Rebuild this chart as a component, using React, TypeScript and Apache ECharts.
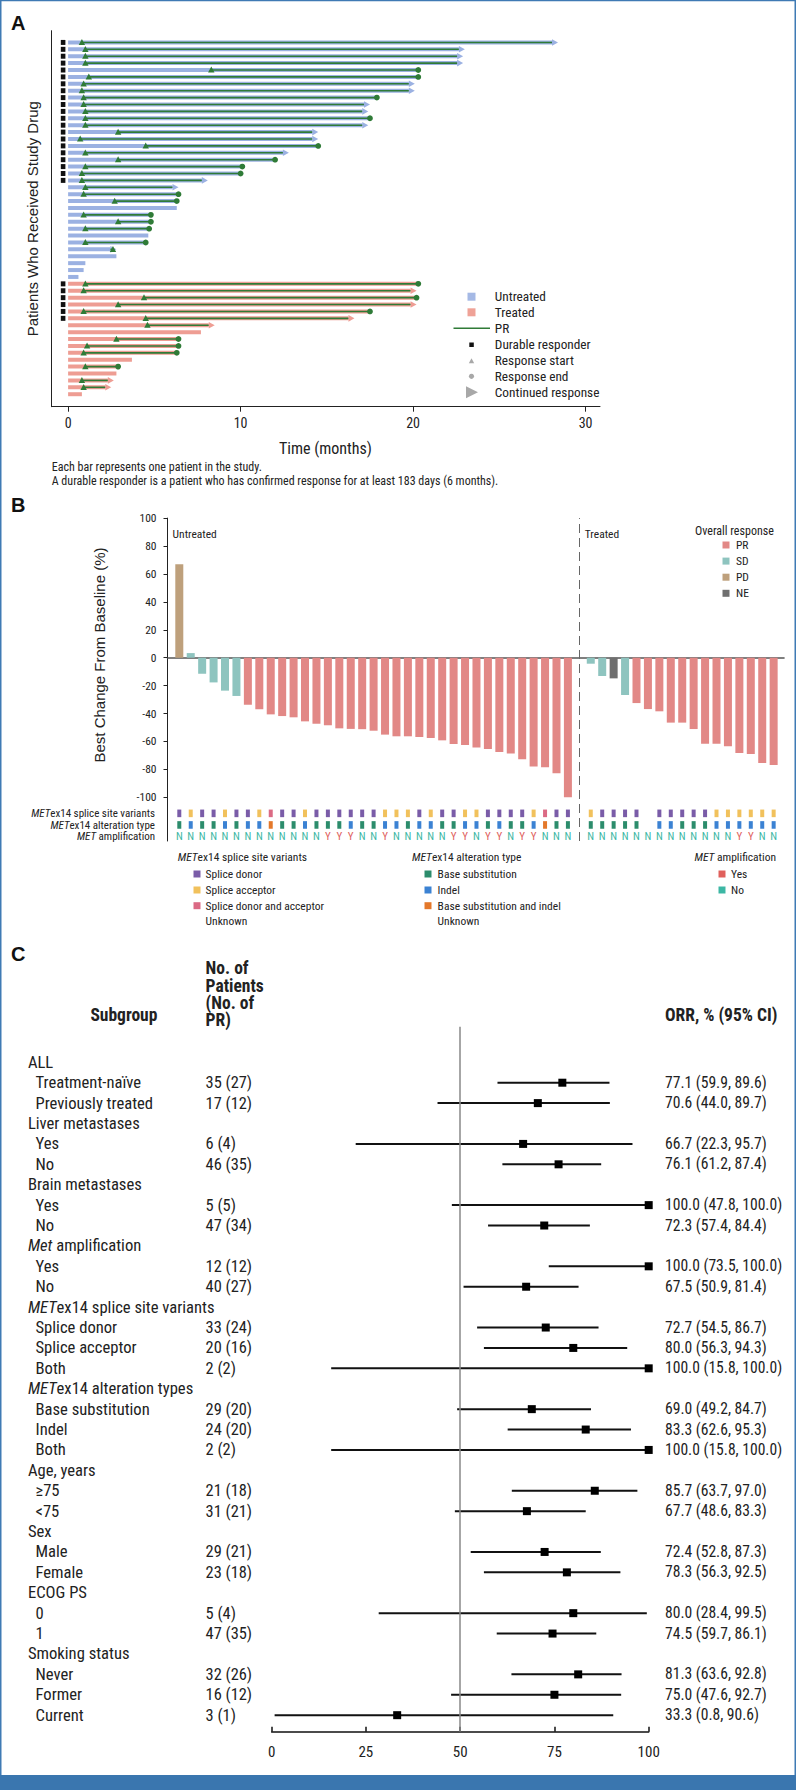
import React, { useEffect, useRef } from "react";
import * as echarts from "echarts";

const NARROW = "'Liberation Sans Narrow', 'Arial Narrow', 'Roboto Condensed', 'Liberation Sans', Arial, sans-serif";
const SANS = "'Liberation Sans', Arial, Helvetica, sans-serif";

// ---------------- Panel A : swimmer plot (months) ----------------
const untreatedEnd = [28.4, 23.0, 22.9, 22.9, 20.3, 20.3, 20.1, 20.1, 17.9, 17.5, 17.4, 17.5, 17.4, 14.5, 14.5, 14.5, 12.8, 12.0, 10.1, 10.0, 8.1, 6.4, 6.4, 6.3, 6.3, 4.8, 4.8, 4.7, 4.65, 4.5, 2.8, 2.8, 1.0, 0.9, 0.6];
const untreatedStart = [0.8, 1.0, 1.0, 1.0, 8.3, 1.2, 0.9, 0.8, 0.9, 0.9, 1.0, 1.0, 1.0, 2.9, 0.7, 4.5, 1.0, 2.9, 1.0, 0.8, 0.8, 1.0, 0.9, 2.7, null, 0.9, 2.9, 1.0, null, 1.0, 2.6, null, null, null, null];
const untreatedOutcome = ["arrow", "arrow", "arrow", "arrow", "end", "end", "arrow", "arrow", "end", "arrow", "arrow", "end", "arrow", "arrow", "arrow", "end", "arrow", "end", "end", "end", "arrow", "arrow", "end", "end", "none", "end", "end", "end", "none", "end", "arrow", "none", "none", "none", "none"];
const untreatedDurable = [1, 1, 1, 1, 1, 1, 1, 1, 1, 1, 1, 1, 1, 1, 1, 1, 1, 1, 1, 1, 1, 0, 0, 0, 0, 0, 0, 0, 0, 0, 0, 0, 0, 0, 0];
const treatedEnd = [20.3, 20.2, 20.2, 20.2, 17.5, 16.6, 8.5, 7.7, 6.4, 6.4, 6.3, 3.7, 2.9, 2.8, 2.65, 2.5, 0.8];
const treatedStart = [1.0, 0.9, 4.4, 2.9, 0.9, 4.5, 4.6, null, 2.8, 1.1, 0.9, null, 1.0, null, 0.8, 0.9, null];
const treatedOutcome = ["end", "arrow", "end", "arrow", "end", "arrow", "arrow", "none", "end", "end", "end", "none", "end", "none", "arrow", "arrow", "none"];
const treatedDurable = [1, 1, 1, 1, 1, 1, 0, 0, 0, 0, 0, 0, 0, 0, 0, 0, 0];
const timeTicks = [0, 10, 20, 30];

// ---------------- Panel B : waterfall (% change) ----------------
const untreatedChange = [67, 3.3, -11.5, -17.7, -23.6, -27.4, -33.7, -37.0, -40.6, -41.8, -42.7, -45.6, -47.3, -48.4, -50.6, -51.0, -51.2, -52.3, -55.1, -56.3, -56.3, -56.8, -57.5, -59.2, -61.8, -62.5, -64.4, -65.4, -67.5, -68.7, -72.8, -78.0, -78.5, -82.8, -100];
const untreatedResponse = ["PD", "SD", "SD", "SD", "SD", "SD", "PR", "PR", "PR", "PR", "PR", "PR", "PR", "PR", "PR", "PR", "PR", "PR", "PR", "PR", "PR", "PR", "PR", "PR", "PR", "PR", "PR", "PR", "PR", "PR", "PR", "PR", "PR", "PR", "PR"];
const treatedChange = [-4.3, -13.1, -14.8, -26.7, -32.5, -36.8, -38.4, -46.5, -46.5, -51.1, -61.6, -61.6, -63.5, -68.3, -69.0, -75.4, -76.8];
const treatedResponse = ["SD", "SD", "NE", "SD", "PR", "PR", "PR", "PR", "PR", "PR", "PR", "PR", "PR", "PR", "PR", "PR", "PR"];
const untreatedSplice = ["D", "A", "D", "D", "A", "D", "D", "A", "B", "D", "D", "A", "D", "D", "D", "D", "D", "D", "A", "A", "A", "D", "A", "D", "D", "A", "A", "D", "D", "D", "D", "A", "B", "D", "D"];
const untreatedAlteration = ["S", "I", "S", "S", "I", "S", "I", "I", "B", "S", "S", "I", "S", "S", "S", "I", "S", "S", "I", "I", "S", "I", "I", "S", "S", "I", "I", "S", "I", "S", "S", "I", "B", "S", "S"];
const untreatedAmp = ["N", "N", "N", "N", "N", "N", "N", "N", "N", "N", "N", "N", "N", "Y", "Y", "Y", "N", "N", "Y", "N", "N", "N", "N", "N", "Y", "Y", "N", "Y", "Y", "N", "Y", "Y", "N", "N", "N"];
const treatedSplice = ["A", "D", "D", "D", "D", "", "D", "D", "D", "D", "D", "A", "A", "A", "A", "A", "A"];
const treatedAlteration = ["S", "S", "S", "S", "S", "", "I", "I", "S", "S", "S", "I", "I", "I", "I", "I", "I"];
const treatedAmp = ["N", "N", "N", "N", "N", "N", "N", "N", "N", "N", "N", "N", "N", "Y", "Y", "N", "N"];
const changeTicks = [-100, -80, -60, -40, -20, 0, 20, 40, 60, 80, 100];

// ---------------- Panel C : forest plot (ORR %) ----------------
const subgroups = ["ALL", "Treatment-naïve", "Previously treated", "Liver metastases", "Yes", "No", "Brain metastases", "Yes", "No", "{it|Met} amplification", "Yes", "No", "{it|MET}ex14 splice site variants", "Splice donor", "Splice acceptor", "Both", "{it|MET}ex14 alteration types", "Base substitution", "Indel", "Both", "Age, years", "≥75", "<75", "Sex", "Male", "Female", "ECOG PS", "0", "1", "Smoking status", "Never", "Former", "Current"];
const patientsPR = ["", "35 (27)", "17 (12)", "", "6 (4)", "46 (35)", "", "5 (5)", "47 (34)", "", "12 (12)", "40 (27)", "", "33 (24)", "20 (16)", "2 (2)", "", "29 (20)", "24 (20)", "2 (2)", "", "21 (18)", "31 (21)", "", "29 (21)", "23 (18)", "", "5 (4)", "47 (35)", "", "32 (26)", "16 (12)", "3 (1)"];
const orr = [null, 77.1, 70.6, null, 66.7, 76.1, null, 100.0, 72.3, null, 100.0, 67.5, null, 72.7, 80.0, 100.0, null, 69.0, 83.3, 100.0, null, 85.7, 67.7, null, 72.4, 78.3, null, 80.0, 74.5, null, 81.3, 75.0, 33.3];
const ciLow = [null, 59.9, 44.0, null, 22.3, 61.2, null, 47.8, 57.4, null, 73.5, 50.9, null, 54.5, 56.3, 15.8, null, 49.2, 62.6, 15.8, null, 63.7, 48.6, null, 52.8, 56.3, null, 28.4, 59.7, null, 63.6, 47.6, 0.8];
const ciHigh = [null, 89.6, 89.7, null, 95.7, 87.4, null, 100.0, 84.4, null, 100.0, 81.4, null, 86.7, 94.3, 100.0, null, 84.7, 95.3, 100.0, null, 97.0, 83.3, null, 87.3, 92.5, null, 99.5, 86.1, null, 92.8, 92.7, 90.6];
const orrTicks = [0, 25, 50, 75, 100];

// ---------------- colours ----------------
const C_UNTREATED = "#9bb1e2";
const C_TREATED = "#ee9d93";
const C_GREEN = "#2f7b37";
const RESP_COLORS: Record<string, string> = { PR: "#e28886", SD: "#8ec4bf", PD: "#bea07c", NE: "#6f6f6f" };
const SPLICE_COLORS: Record<string, string> = { D: "#7a5ca8", A: "#f1c15c", B: "#db6a84" };
const ALT_COLORS: Record<string, string> = { S: "#2c8c6c", I: "#3b82d3", B: "#e4782a" };
const AMP_COLORS: Record<string, string> = { Y: "#e0605c", N: "#3cb7a4" };
const FRAME = "#3f7ab4";

function buildOption() {
  const outcomeCode = (o: string) => (o === "end" ? 1 : o === "arrow" ? 2 : 0);
  const swimmer: number[][] = [];
  untreatedEnd.forEach((e, i) => swimmer.push([i, e, untreatedStart[i] == null ? -1 : (untreatedStart[i] as number), outcomeCode(untreatedOutcome[i]), untreatedDurable[i], 0]));
  treatedEnd.forEach((e, j) => swimmer.push([untreatedEnd.length + j, e, treatedStart[j] == null ? -1 : (treatedStart[j] as number), outcomeCode(treatedOutcome[j]), treatedDurable[j], 1]));

  const nU = untreatedChange.length;
  const bars: any[] = [];
  untreatedChange.forEach((v, i) => bars.push({ value: [i, v], itemStyle: { color: RESP_COLORS[untreatedResponse[i]] } }));
  treatedChange.forEach((v, j) => bars.push({ value: [nU + 1 + j, v], itemStyle: { color: RESP_COLORS[treatedResponse[j]] } }));
  const annot: any[] = [];
  untreatedSplice.forEach((s, i) => annot.push([i, s, untreatedAlteration[i], untreatedAmp[i]]));
  treatedSplice.forEach((s, j) => annot.push([nU + 1 + j, s, treatedAlteration[j], treatedAmp[j]]));

  const forest: number[][] = [];
  orr.forEach((v, k) => { if (v != null) forest.push([v, k, ciLow[k] as number, ciHigh[k] as number]); });
  const forestRows = subgroups.map((_, k) => [50, k]);

  const txt = (x: number, y: number, text: string, o: any = {}) => ({
    type: "text", x, y, silent: true,
    style: Object.assign({ text, fontSize: 12, fontFamily: NARROW, fill: "#222", align: "left", verticalAlign: "middle" }, o),
  });
  const rect = (x: number, y: number, w: number, h: number, fill: string) => ({ type: "rect", silent: true, shape: { x, y, width: w, height: h }, style: { fill } });
  const italicRich = (fs: number, weight = "normal") => ({ it: { fontStyle: "italic", fontSize: fs, fontFamily: NARROW, fill: "#222", fontWeight: weight } });

  const LA = 13.3;
  const legendA = [
    rect(467.5, 292.7, 8, 8, "#a5b9e5"),
    txt(494.8, 296.7, "Untreated", { fontSize: LA }),
    rect(467.5, 308.3, 8, 8, "#efa297"),
    txt(494.8, 312.3, "Treated", { fontSize: LA }),
    { type: "line", silent: true, shape: { x1: 453.5, y1: 328.3, x2: 490, y2: 328.3 }, style: { stroke: C_GREEN, lineWidth: 1.5 } },
    txt(494.8, 328.3, "PR", { fontSize: LA }),
    rect(469.3, 342.5, 4.5, 4.5, "#111"),
    txt(494.8, 344.7, "Durable responder", { fontSize: LA }),
    { type: "polygon", silent: true, shape: { points: [[468.8, 363.2], [471.5, 358.2], [474.2, 363.2]] }, style: { fill: "#a8a8a8" } },
    txt(494.8, 360.7, "Response start", { fontSize: LA }),
    { type: "circle", silent: true, shape: { cx: 471.5, cy: 376.3, r: 2.6 }, style: { fill: "#a8a8a8" } },
    txt(494.8, 376.3, "Response end", { fontSize: LA }),
    { type: "polygon", silent: true, shape: { points: [[466, 386.3], [478, 392.3], [466, 398.3]] }, style: { fill: "#a8a8a8" } },
    txt(494.8, 392.3, "Continued response", { fontSize: LA }),
  ];

  const legendB = [
    txt(695, 530.7, "Overall response", { fontSize: 12 }),
    ...["PR", "SD", "PD", "NE"].flatMap((k, i) => {
      const y = 545 + i * 16.1;
      return [rect(722.5, y - 3.5, 7, 7, RESP_COLORS[k]), txt(736, y, k, { fontSize: 11.5 })];
    }),
  ];

  const LB = 11.5;
  const legendB2: any[] = [
    txt(177.7, 856.7, "{it|MET}ex14 splice site variants", { fontSize: LB, rich: italicRich(LB) }),
    txt(412, 856.7, "{it|MET}ex14 alteration type", { fontSize: LB, rich: italicRich(LB) }),
    txt(776, 856.7, "{it|MET} amplification", { fontSize: LB, align: "right", rich: italicRich(LB) }),
  ];
  const col1 = [["Splice donor", SPLICE_COLORS.D], ["Splice acceptor", SPLICE_COLORS.A], ["Splice donor and acceptor", SPLICE_COLORS.B], ["Unknown", ""]];
  const col2 = [["Base substitution", ALT_COLORS.S], ["Indel", ALT_COLORS.I], ["Base substitution and indel", ALT_COLORS.B], ["Unknown", ""]];
  const col3 = [["Yes", AMP_COLORS.Y], ["No", AMP_COLORS.N]];
  const itemYs = [874, 890, 905.7, 921.3];
  col1.forEach(([t, c], i) => { if (c) legendB2.push(rect(193.5, itemYs[i] - 3.5, 7, 7, c)); legendB2.push(txt(205.6, itemYs[i], t, { fontSize: LB })); });
  col2.forEach(([t, c], i) => { if (c) legendB2.push(rect(424.5, itemYs[i] - 3.5, 7, 7, c)); legendB2.push(txt(437.6, itemYs[i], t, { fontSize: LB })); });
  col3.forEach(([t, c], i) => { if (c) legendB2.push(rect(718.5, itemYs[i] - 3.5, 7, 7, c)); legendB2.push(txt(731, itemYs[i], t, { fontSize: LB })); });

  const annotLabels = [
    txt(155, 813.3, "{it|MET}ex14 splice site variants", { fontSize: 11, align: "right", rich: italicRich(11) }),
    txt(155, 825, "{it|MET}ex14 alteration type", { fontSize: 11, align: "right", rich: italicRich(11) }),
    txt(155, 836.7, "{it|MET} amplification", { fontSize: 11, align: "right", rich: italicRich(11) }),
  ];

  const HB = 17.5;
  const graphic = [
    { type: "rect", silent: true, shape: { x: 0.75, y: 0.5, width: 794.5, height: 1776 }, style: { fill: "none", stroke: FRAME, lineWidth: 1.5 } },
    rect(0, 1775, 796, 15, "#3a76af"),
    txt(11, 22.7, "A", { fontSize: 20, fontWeight: "bold", fontFamily: SANS, fill: "#111" }),
    txt(11, 505, "B", { fontSize: 20, fontWeight: "bold", fontFamily: SANS, fill: "#111" }),
    txt(11, 954.3, "C", { fontSize: 20, fontWeight: "bold", fontFamily: SANS, fill: "#111" }),
    { type: "text", silent: true, x: 32.5, y: 218.7, rotation: Math.PI / 2, style: { text: "Patients Who Received Study Drug", fontSize: 15, fontFamily: SANS, fill: "#222", align: "center", verticalAlign: "middle" } },
    txt(325.5, 448, "Time (months)", { fontSize: 16, align: "center" }),
    txt(51.7, 467, "Each bar represents one patient in the study.", { fontSize: 12 }),
    txt(51.7, 481, "A durable responder is a patient who has confirmed response for at least 183 days (6 months).", { fontSize: 12 }),
    ...legendA,
    { type: "text", silent: true, x: 99, y: 655, rotation: Math.PI / 2, style: { text: "Best Change From Baseline (%)", fontSize: 15, fontFamily: SANS, fill: "#222", align: "center", verticalAlign: "middle" } },
    txt(172.6, 534.3, "Untreated", { fontSize: 11.5 }),
    txt(584.8, 534.3, "Treated", { fontSize: 11.5 }),
    ...legendB,
    ...annotLabels,
    ...legendB2,
    txt(205.6, 968.3, "No. of", { fontSize: HB, fontWeight: "bold" }),
    txt(205.6, 985.7, "Patients", { fontSize: HB, fontWeight: "bold" }),
    txt(205.6, 1003, "(No. of", { fontSize: HB, fontWeight: "bold" }),
    txt(205.6, 1020.3, "PR)", { fontSize: HB, fontWeight: "bold" }),
    txt(157.4, 1015, "Subgroup", { fontSize: HB, fontWeight: "bold", align: "right" }),
    txt(665, 1015, "ORR, % (95% CI)", { fontSize: HB, fontWeight: "bold" }),
  ];

  return {
    animation: false,
    backgroundColor: "#ffffff",
    graphic,
    grid: [
      { left: 51.7, top: 30.7, width: 548.3, height: 376 },
      { left: 167.5, top: 518.1, width: 616.5, height: 322.9 },
      { left: 271.6, top: 1026.7, width: 377.1, height: 705 },
    ],
    xAxis: [
      {
        gridIndex: 0, type: "value", min: -0.951, max: 30.835, position: "bottom",
        axisLine: { show: true, onZero: false, lineStyle: { color: "#222", width: 1 } },
        axisTick: { show: true, customValues: timeTicks, length: 5, lineStyle: { color: "#222" } },
        axisLabel: { customValues: timeTicks, fontSize: 14, fontFamily: NARROW, color: "#222", margin: 9 },
        splitLine: { show: false },
      },
      {
        gridIndex: 1, type: "value", min: -1.032, max: 52.905,
        axisLine: { show: true, onZero: true, lineStyle: { color: "#555", width: 1.6 } },
        axisTick: { show: false }, axisLabel: { show: false }, splitLine: { show: false },
      },
      {
        gridIndex: 2, type: "value", min: 0, max: 100, interval: 25, position: "bottom",
        axisLine: { show: true, onZero: false, lineStyle: { color: "#111", width: 1.5 } },
        axisTick: { show: true, inside: true, length: 5, lineStyle: { color: "#111", width: 1.5 } },
        axisLabel: { fontSize: 15, fontFamily: NARROW, color: "#222", margin: 13 },
        splitLine: { show: false },
      },
    ],
    yAxis: [
      {
        gridIndex: 0, type: "value", inverse: true, min: -1.7, max: 52.81, position: "left",
        axisLine: { show: true, onZero: false, lineStyle: { color: "#222", width: 1 } },
        axisTick: { show: false }, axisLabel: { show: false }, splitLine: { show: false },
      },
      {
        gridIndex: 1, type: "value", min: -131.3, max: 100, position: "left",
        axisLine: { show: true, onZero: false, lineStyle: { color: "#222", width: 1 } },
        axisTick: { show: true, customValues: changeTicks, length: 4, lineStyle: { color: "#222" } },
        axisLabel: { customValues: changeTicks, fontSize: 11.5, fontFamily: NARROW, color: "#222", margin: 11 },
        splitLine: { show: false },
      },
      {
        gridIndex: 2, type: "value", inverse: true, min: -1.745, max: 32.81,
        axisLine: { show: false, onZero: false }, axisTick: { show: false }, axisLabel: { show: false }, splitLine: { show: false },
      },
    ],
    series: [
      {
        type: "custom", xAxisIndex: 0, yAxisIndex: 0, data: swimmer, clip: false,
        renderItem: (_p: any, api: any) => {
          const row = api.value(0), end = api.value(1), start = api.value(2), outc = api.value(3), dur = api.value(4), grp = api.value(5);
          const [x0, y] = api.coord([0, row]);
          const xe = api.coord([end, row])[0];
          const color = grp === 0 ? C_UNTREATED : C_TREATED;
          const al = 6;
          const barEnd = outc === 2 ? xe - al : xe;
          const ch: any[] = [{ type: "rect", shape: { x: x0, y: y - 2, width: Math.max(barEnd - x0, 1), height: 4 }, style: { fill: color } }];
          if (outc === 2) ch.push({ type: "polygon", shape: { points: [[xe - al, y - 3.3], [xe, y], [xe - al, y + 3.3]] }, style: { fill: color } });
          if (start >= 0) {
            const xs = api.coord([start, row])[0];
            ch.push({ type: "line", shape: { x1: xs, y1: y, x2: barEnd, y2: y }, style: { stroke: C_GREEN, lineWidth: 1.6 } });
            ch.push({ type: "polygon", shape: { points: [[xs - 3.2, y + 2.6], [xs, y - 3.4], [xs + 3.2, y + 2.6]] }, style: { fill: C_GREEN } });
            if (outc === 1) ch.push({ type: "circle", shape: { cx: xe, cy: y, r: 2.9 }, style: { fill: C_GREEN } });
          }
          if (dur === 1) {
            const xd = api.coord([-0.29, row])[0];
            ch.push({ type: "rect", shape: { x: xd - 2.3, y: y - 2.5, width: 4.6, height: 5 }, style: { fill: "#111" } });
          }
          return { type: "group", children: ch };
        },
      },
      {
        type: "bar", xAxisIndex: 1, yAxisIndex: 1, barWidth: 8, data: bars,
        markLine: { silent: true, symbol: "none", label: { show: false }, lineStyle: { type: [9, 5], color: "#666", width: 1 }, data: [{ xAxis: nU }] },
      },
      {
        type: "custom", xAxisIndex: 1, yAxisIndex: 1, data: annot, clip: false,
        renderItem: (p: any, api: any) => {
          const d = annot[p.dataIndex];
          const x = api.coord([d[0], 0])[0];
          const ys = api.coord([0, -111.5])[1], ya = api.coord([0, -119.8])[1], yt = api.coord([0, -128.2])[1];
          const ch: any[] = [];
          if (d[1]) ch.push({ type: "rect", shape: { x: x - 2, y: ys - 3.8, width: 4, height: 7.6 }, style: { fill: SPLICE_COLORS[d[1]] } });
          if (d[2]) ch.push({ type: "rect", shape: { x: x - 2, y: ya - 3.8, width: 4, height: 7.6 }, style: { fill: ALT_COLORS[d[2]] } });
          ch.push({ type: "text", x, y: yt, style: { text: d[3], fontSize: 11, fontFamily: NARROW, fill: AMP_COLORS[d[3]], align: "center", verticalAlign: "middle" } });
          return { type: "group", children: ch };
        },
      },
      {
        type: "custom", xAxisIndex: 2, yAxisIndex: 2, data: forest, clip: false,
        renderItem: (_p: any, api: any) => {
          const [xp, y] = api.coord([api.value(0), api.value(1)]);
          const xl = api.coord([api.value(2), 0])[0], xh = api.coord([api.value(3), 0])[0];
          return {
            type: "group", children: [
              { type: "line", shape: { x1: xl, y1: y, x2: xh, y2: y }, style: { stroke: "#111", lineWidth: 2 } },
              { type: "rect", shape: { x: xp - 4, y: y - 4, width: 8, height: 8 }, style: { fill: "#000" } },
            ],
          };
        },
        markLine: { silent: true, symbol: "none", label: { show: false }, lineStyle: { type: "solid", color: "#888", width: 1.5 }, data: [{ xAxis: 50 }] },
      },
      {
        type: "custom", xAxisIndex: 2, yAxisIndex: 2, data: forestRows, clip: false,
        renderItem: (p: any, api: any) => {
          const k = p.dataIndex;
          const y = api.coord([50, api.value(1)])[1];
          const isHead = patientsPR[k] === "";
          const fs = 16.6;
          const ch: any[] = [
            { type: "text", x: isHead ? 27.9 : 35.5, y, style: { text: subgroups[k], rich: italicRich(fs), fontSize: fs, fontFamily: NARROW, fill: "#222", verticalAlign: "middle" } },
          ];
          if (!isHead) {
            ch.push({ type: "text", x: 205.6, y, style: { text: patientsPR[k], fontSize: 16.4, fontFamily: NARROW, fill: "#222", verticalAlign: "middle" } });
            ch.push({ type: "text", x: 665, y, style: { text: `${(orr[k] as number).toFixed(1)} (${(ciLow[k] as number).toFixed(1)}, ${(ciHigh[k] as number).toFixed(1)})`, fontSize: 15.6, fontFamily: NARROW, fill: "#222", verticalAlign: "middle" } });
          }
          return { type: "group", children: ch };
        },
      },
    ],
  };
}

export default function App() {
  const ref = useRef<HTMLDivElement>(null);
  useEffect(() => {
    if (!ref.current) return;
    const chart = echarts.init(ref.current, undefined, { renderer: "svg" });
    chart.setOption(buildOption() as any);
    return () => chart.dispose();
  }, []);
  return <div ref={ref} style={{ position: "absolute", left: 0, top: 0, width: 796, height: 1790, background: "#fff" }} />;
}
